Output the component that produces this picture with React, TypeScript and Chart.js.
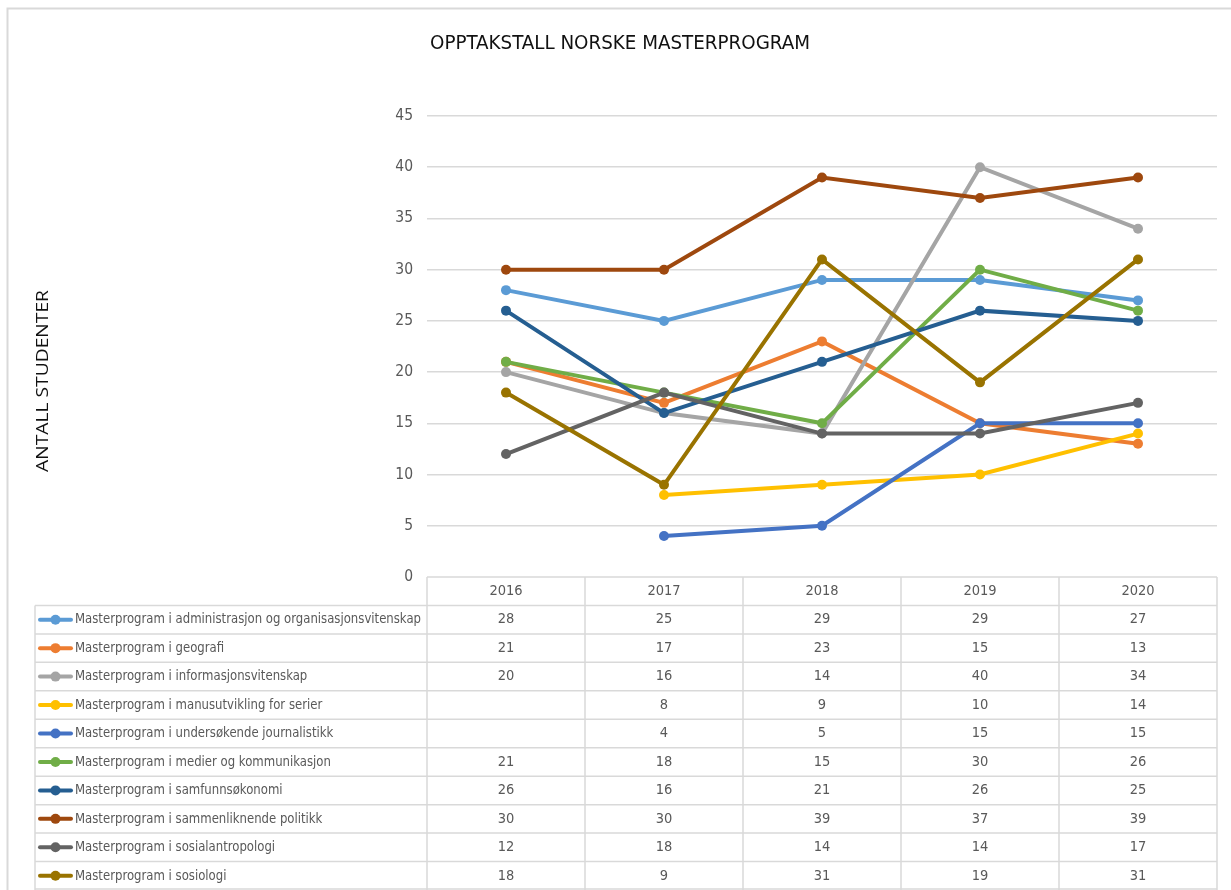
import React, { useEffect, useRef } from "react";
import { Chart, registerables } from "chart.js";

Chart.register(...registerables);

const years = ["2016", "2017", "2018", "2019", "2020"];

const seriesNames = [
  "Masterprogram i administrasjon og organisasjonsvitenskap",
  "Masterprogram i geografi",
  "Masterprogram i informasjonsvitenskap",
  "Masterprogram i manusutvikling for serier",
  "Masterprogram i undersøkende journalistikk",
  "Masterprogram i medier og kommunikasjon",
  "Masterprogram i samfunnsøkonomi",
  "Masterprogram i sammenliknende politikk",
  "Masterprogram i sosialantropologi",
  "Masterprogram i sosiologi",
];

const administrasjon = [28, 25, 29, 29, 27];
const geografi = [21, 17, 23, 15, 13];
const informasjon = [20, 16, 14, 40, 34];
const manusutvikling = [null, 8, 9, 10, 14];
const journalistikk = [null, 4, 5, 15, 15];
const medier = [21, 18, 15, 30, 26];
const samfunnsokonomi = [26, 16, 21, 26, 25];
const politikk = [30, 30, 39, 37, 39];
const sosialantropologi = [12, 18, 14, 14, 17];
const sosiologi = [18, 9, 31, 19, 31];

const seriesValues = [
  administrasjon,
  geografi,
  informasjon,
  manusutvikling,
  journalistikk,
  medier,
  samfunnsokonomi,
  politikk,
  sosialantropologi,
  sosiologi,
];

const seriesColors = [
  "#5B9BD5",
  "#ED7D31",
  "#A5A5A5",
  "#FFC000",
  "#4472C4",
  "#70AD47",
  "#255E91",
  "#9E480E",
  "#636363",
  "#997300",
];

const yTicks = [0, 5, 10, 15, 20, 25, 30, 35, 40, 45];

const chartTitle = "OPPTAKSTALL NORSKE MASTERPROGRAM";
const yTitle = "ANTALL STUDENTER";

const NARROW = '"Liberation Sans Narrow", "DejaVu Sans Condensed", "Roboto", sans-serif';
const GRID = "#D9D9D9";
const TEXT = "#595959";

const tablePlugin = {
  id: "excelTable",
  afterDraw(chart: any) {
    const ctx = chart.ctx as CanvasRenderingContext2D;
    const { left, right, bottom } = chart.chartArea;
    const xs = chart.scales.x;
    const W = chart.width;
    const H = chart.height;

    ctx.save();
    // frame
    ctx.strokeStyle = GRID;
    ctx.lineWidth = 2;
    ctx.beginPath();
    ctx.moveTo(7.5, H);
    ctx.lineTo(7.5, 8.5);
    ctx.lineTo(W, 8.5);
    ctx.stroke();

    // title
    ctx.fillStyle = "#111111";
    ctx.font = "20px " + NARROW;
    ctx.textAlign = "center";
    ctx.textBaseline = "middle";
    const tw = ctx.measureText(chartTitle).width;
    const tScale = 380 / tw;
    ctx.save();
    ctx.translate(620, 44);
    ctx.scale(tScale, 1);
    ctx.fillText(chartTitle, 0, 0);
    ctx.restore();

    // y title
    ctx.save();
    ctx.translate(43, 381);
    ctx.rotate(-Math.PI / 2);
    ctx.font = '17px "Open Sans", "DejaVu Sans", sans-serif';
    ctx.fillStyle = "#111111";
    const yw = ctx.measureText(yTitle).width;
    ctx.scale(182 / yw, 1);
    ctx.fillText(yTitle, 0, 0);
    ctx.restore();

    // table
    const nRows = seriesNames.length;
    const rowH = (H - bottom) / (nRows + 1);
    const colW = (right - left) / years.length;
    const legendLeft = 35;

    ctx.strokeStyle = GRID;
    ctx.lineWidth = 1.5;
    ctx.beginPath();
    ctx.moveTo(left, bottom);
    ctx.lineTo(right, bottom);
    for (let r = 1; r <= nRows + 1; r++) {
      const y = Math.min(bottom + r * rowH, H - 1);
      ctx.moveTo(legendLeft, y);
      ctx.lineTo(right, y);
    }
    for (let c = 0; c <= years.length; c++) {
      const x = left + c * colW;
      ctx.moveTo(x, bottom);
      ctx.lineTo(x, H);
    }
    ctx.moveTo(legendLeft, bottom + rowH);
    ctx.lineTo(legendLeft, H);
    ctx.stroke();

    ctx.font = "14.5px " + NARROW;
    ctx.fillStyle = TEXT;
    ctx.textAlign = "center";
    ctx.textBaseline = "middle";
    years.forEach((yr, i) => {
      ctx.fillText(yr, xs.getPixelForValue(i), bottom + rowH / 2);
    });

    let longest = 0;
    seriesNames.forEach((n) => {
      longest = Math.max(longest, ctx.measureText(n).width);
    });
    const lScale = Math.min(1, 346 / longest);

    seriesNames.forEach((name, r) => {
      const cy = bottom + (r + 1.5) * rowH;
      ctx.strokeStyle = seriesColors[r];
      ctx.lineWidth = 4;
      ctx.lineCap = "round";
      ctx.beginPath();
      ctx.moveTo(40, cy);
      ctx.lineTo(71, cy);
      ctx.stroke();
      ctx.fillStyle = seriesColors[r];
      ctx.beginPath();
      ctx.arc(55.5, cy, 5, 0, Math.PI * 2);
      ctx.fill();
      ctx.fillStyle = TEXT;
      ctx.textAlign = "left";
      ctx.save();
      ctx.translate(75, cy);
      ctx.scale(lScale, 1);
      ctx.fillText(name, 0, 0);
      ctx.restore();
      ctx.textAlign = "center";
      seriesValues[r].forEach((v, i) => {
        if (v !== null && v !== undefined) {
          ctx.fillText(String(v), xs.getPixelForValue(i), cy);
        }
      });
    });
    ctx.restore();
  },
};

export default function App() {
  const ref = useRef<HTMLCanvasElement | null>(null);

  useEffect(() => {
    if (!ref.current) return;
    const n = seriesNames.length;
    const chart = new Chart(ref.current, {
      type: "line",
      data: {
        labels: years,
        datasets: seriesNames.map((name, i) => ({
          label: name,
          data: seriesValues[i],
          borderColor: seriesColors[i],
          backgroundColor: seriesColors[i],
          borderWidth: 4,
          pointRadius: 5,
          pointBorderWidth: 0,
          pointBackgroundColor: seriesColors[i],
          tension: 0,
          spanGaps: false,
          order: n - 1 - i,
        })),
      },
      options: {
        responsive: false,
        animation: false,
        layout: { padding: { left: 0, top: 116, right: 14, bottom: 313 } },
        plugins: {
          legend: { display: false },
          title: { display: false },
          tooltip: { enabled: false },
        },
        scales: {
          x: {
            type: "category",
            offset: true,
            display: false,
          },
          y: {
            min: 0,
            max: 45,
            afterFit: (scale: any) => {
              scale.width = 427;
            },
            afterBuildTicks: (scale: any) => {
              scale.ticks = yTicks.map((v) => ({ value: v }));
            },
            border: { display: false },
            grid: {
              color: (c: any) => (c.tick && c.tick.value === 0 ? "rgba(0,0,0,0)" : GRID),
              lineWidth: 1.5,
              drawTicks: false,
            },
            ticks: {
              padding: 14,
              color: TEXT,
              font: { family: NARROW, size: 15.5 },
            },
          },
        },
      },
      plugins: [tablePlugin],
    });
    return () => chart.destroy();
  }, []);

  return (
    <div style={{ position: "absolute", left: 0, top: 0, width: 1231, height: 890, background: "#fff" }}>
      <canvas ref={ref} width={1231} height={890} style={{ display: "block" }} />
    </div>
  );
}
